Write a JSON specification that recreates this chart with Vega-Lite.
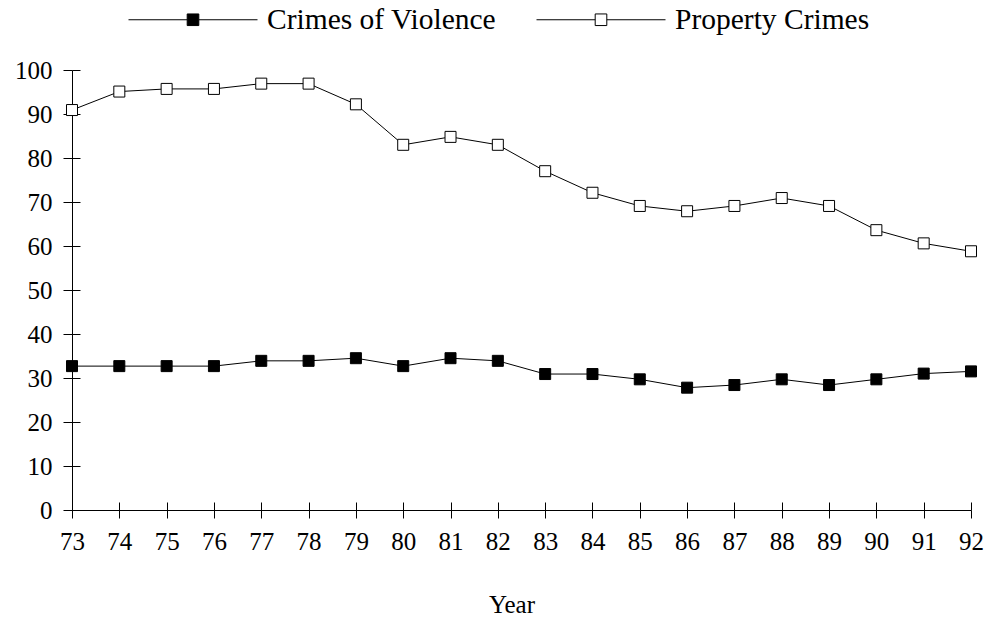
{
  "$schema": "https://vega.github.io/schema/vega-lite/v6.json",
  "width": 899,
  "height": 440,
  "autosize": {"type": "none"},
  "padding": {"left": 72, "top": 70, "right": 13, "bottom": 112},
  "background": "white",
  "config": {
    "view": {"stroke": null},
    "axis": {
      "domainColor": "black", "domainWidth": 1,
      "tickColor": "black", "tickWidth": 1,
      "labelColor": "black", "labelFont": "Liberation Serif", "labelFontSize": 25,
      "titleFont": "Liberation Serif", "titleFontSize": 25, "titleFontWeight": "normal", "titleColor": "black",
      "grid": false
    }
  },
  "data": {
    "values": [
      {"year": 73, "series": "Crimes of Violence", "value": 32.7},
      {"year": 74, "series": "Crimes of Violence", "value": 32.7},
      {"year": 75, "series": "Crimes of Violence", "value": 32.7},
      {"year": 76, "series": "Crimes of Violence", "value": 32.7},
      {"year": 77, "series": "Crimes of Violence", "value": 33.9},
      {"year": 78, "series": "Crimes of Violence", "value": 33.9},
      {"year": 79, "series": "Crimes of Violence", "value": 34.5},
      {"year": 80, "series": "Crimes of Violence", "value": 32.7},
      {"year": 81, "series": "Crimes of Violence", "value": 34.5},
      {"year": 82, "series": "Crimes of Violence", "value": 33.9},
      {"year": 83, "series": "Crimes of Violence", "value": 30.9},
      {"year": 84, "series": "Crimes of Violence", "value": 30.9},
      {"year": 85, "series": "Crimes of Violence", "value": 29.7},
      {"year": 86, "series": "Crimes of Violence", "value": 27.8},
      {"year": 87, "series": "Crimes of Violence", "value": 28.4},
      {"year": 88, "series": "Crimes of Violence", "value": 29.7},
      {"year": 89, "series": "Crimes of Violence", "value": 28.4},
      {"year": 90, "series": "Crimes of Violence", "value": 29.7},
      {"year": 91, "series": "Crimes of Violence", "value": 31.0},
      {"year": 92, "series": "Crimes of Violence", "value": 31.5},
      {"year": 73, "series": "Property Crimes", "value": 90.9},
      {"year": 74, "series": "Property Crimes", "value": 95.1},
      {"year": 75, "series": "Property Crimes", "value": 95.7},
      {"year": 76, "series": "Property Crimes", "value": 95.7},
      {"year": 77, "series": "Property Crimes", "value": 96.9},
      {"year": 78, "series": "Property Crimes", "value": 96.9},
      {"year": 79, "series": "Property Crimes", "value": 92.2},
      {"year": 80, "series": "Property Crimes", "value": 83.0},
      {"year": 81, "series": "Property Crimes", "value": 84.8},
      {"year": 82, "series": "Property Crimes", "value": 83.0},
      {"year": 83, "series": "Property Crimes", "value": 77.0},
      {"year": 84, "series": "Property Crimes", "value": 72.1},
      {"year": 85, "series": "Property Crimes", "value": 69.1},
      {"year": 86, "series": "Property Crimes", "value": 67.9},
      {"year": 87, "series": "Property Crimes", "value": 69.1},
      {"year": 88, "series": "Property Crimes", "value": 70.9},
      {"year": 89, "series": "Property Crimes", "value": 69.1},
      {"year": 90, "series": "Property Crimes", "value": 63.6},
      {"year": 91, "series": "Property Crimes", "value": 60.6},
      {"year": 92, "series": "Property Crimes", "value": 58.8}
    ]
  },
  "layer": [
    {
      "mark": {"type": "line", "color": "black", "strokeWidth": 1},
      "encoding": {
        "x": {
          "field": "year", "type": "quantitative",
          "scale": {"domain": [73, 92], "nice": false, "zero": false},
          "axis": {
            "orient": "bottom", "values": [73,74,75,76,77,78,79,80,81,82,83,84,85,86,87,88,89,90,91,92],
            "format": "d", "tickSize": 8, "labelPadding": 11, "title": "Year", "titlePadding": 38,
            "titleX": 439.5, "titleAlign": "center",
            "labelFlush": false, "labelOverlap": false
          }
        },
        "y": {
          "field": "value", "type": "quantitative",
          "scale": {"domain": [0, 100], "nice": false},
          "axis": {
            "orient": "left", "values": [0,10,20,30,40,50,60,70,80,90,100],
            "tickSize": 9, "labelPadding": 11, "title": null, "labelFlush": false, "labelOverlap": false
          }
        },
        "detail": {"field": "series", "type": "nominal"}
      }
    },
    {
      "mark": {"type": "point", "shape": "square", "filled": true, "size": 121, "stroke": "black", "strokeWidth": 1, "opacity": 1},
      "encoding": {
        "x": {
          "field": "year", "type": "quantitative",
          "axis": {
            "orient": "bottom", "values": [73,74,75,76,77,78,79,80,81,82,83,84,85,86,87,88,89,90,91,92],
            "tickSize": -8, "labels": false, "domain": false, "title": null
          }
        },
        "y": {
          "field": "value", "type": "quantitative",
          "axis": {
            "orient": "left", "values": [0,10,20,30,40,50,60,70,80,90,100],
            "tickSize": -8, "labels": false, "domain": false, "title": null
          }
        },
        "fill": {
          "field": "series", "type": "nominal",
          "scale": {"domain": ["Crimes of Violence", "Property Crimes"], "range": ["black", "white"]},
          "legend": {
            "orient": "none", "legendX": 56, "legendY": -115.5, "direction": "horizontal", "title": null,
            "padding": 0,
            "symbolType": "M-1,0L-0.09,0M0.09,0L1,0M-0.09,-0.09L0.09,-0.09L0.09,0.09L-0.09,0.09Z",
            "symbolSize": 16641, "symbolStrokeColor": "black", "symbolStrokeWidth": 1, "symbolOpacity": 1,
            "labelFont": "Liberation Serif", "labelFontSize": 29.5, "labelColor": "black",
            "labelOffset": 9, "columnPadding": 37, "labelLimit": 0
          }
        }
      }
    }
  ],
  "resolve": {"axis": {"x": "independent", "y": "independent"}}
}
